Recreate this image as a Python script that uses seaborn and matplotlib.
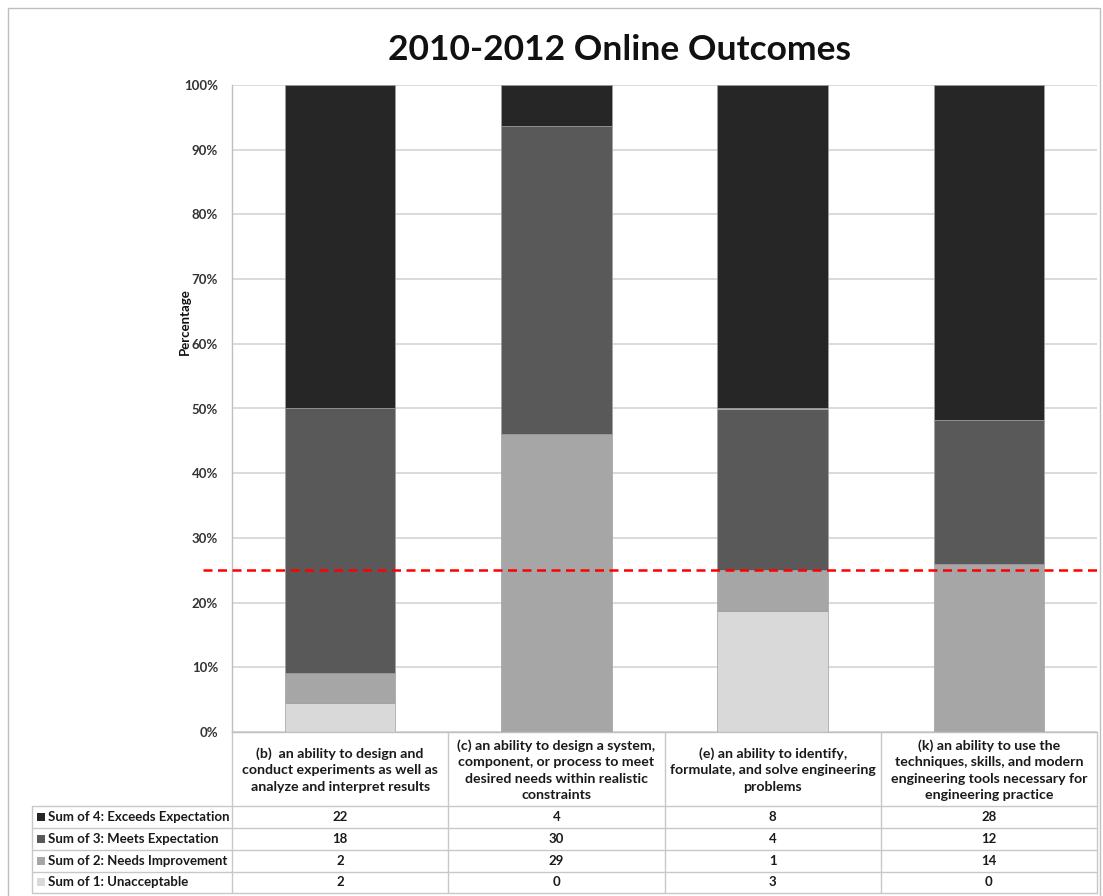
import matplotlib
matplotlib.use("Agg")
import matplotlib.pyplot as plt
import matplotlib.transforms as mtransforms
from matplotlib.lines import Line2D
from matplotlib.patches import Rectangle
from matplotlib.ticker import FuncFormatter, MultipleLocator
import pandas as pd
import seaborn as sns

# ---- data -------------------------------------------------------------
outcome_keys = ["b", "c", "e", "k"]
outcome_labels = [
    "(b)  an ability to design and\nconduct experiments as well as\nanalyze and interpret results",
    "(c) an ability to design a system,\ncomponent, or process to meet\ndesired needs within realistic\nconstraints",
    "(e) an ability to identify,\nformulate, and solve engineering\nproblems",
    "(k) an ability to use the\ntechniques, skills, and modern\nengineering tools necessary for\nengineering practice",
]
level_names = [
    "Sum of 4: Exceeds Expectation",
    "Sum of 3: Meets Expectation",
    "Sum of 2: Needs Improvement",
    "Sum of 1: Unacceptable",
]
exceeds = [22, 4, 8, 28]
meets = [18, 30, 4, 12]
needs = [2, 29, 1, 14]
unacceptable = [2, 0, 3, 0]
level_colors = ["#262626", "#595959", "#a6a6a6", "#d9d9d9"]
target_share = 0.25

counts = [exceeds, meets, needs, unacceptable]

# ---- figure -----------------------------------------------------------
sns.set_theme(style="white")
plt.rcParams["font.family"] = ["Lato", "DejaVu Sans"]

W, H = 1103, 896
fig = plt.figure(figsize=(W / 100, H / 100), dpi=100)

def fx(px):
    return px / W

def fy(py):
    return 1 - py / H

ax_left, ax_right, ax_top, ax_bottom = 232, 1097, 85, 732
ax = fig.add_axes([fx(ax_left), fy(ax_bottom), fx(ax_right - ax_left),
                   (ax_bottom - ax_top) / H])

totals = [sum(c[i] for c in counts) for i in range(len(outcome_keys))]
df = pd.DataFrame({"outcome": outcome_keys})
for name, vals in zip(level_names, counts):
    df[name] = [v / t for v, t in zip(vals, totals)]

# stack from "Unacceptable" at the bottom up to "Exceeds" on top
bottom = [0.0] * len(outcome_keys)
for name, color in zip(reversed(level_names), reversed(level_colors)):
    sns.barplot(data=df, x="outcome", y=name, color=color, width=0.51,
                bottom=bottom, edgecolor="#a0a0a0", linewidth=0.5,
                saturation=1, ax=ax)
    bottom = [b + v for b, v in zip(bottom, df[name])]

ax.set_xlim(-0.5, 3.5)
ax.set_ylim(0, 1)
ax.yaxis.set_major_locator(MultipleLocator(0.1))
ax.yaxis.set_major_formatter(FuncFormatter(lambda v, _: f"{v:.0%}"))
ax.set_xlabel("")
ax.set_ylabel("")
ax.set_xticks([])
ax.tick_params(axis="y", length=0, pad=10, labelsize=9.5, labelcolor="#333333")
for lab in ax.get_yticklabels():
    lab.set_fontweight("bold")
ax.yaxis.grid(True, color="#d4d4d4", linewidth=1.2)
ax.set_axisbelow(True)
for side in ["top", "right"]:
    ax.spines[side].set_visible(False)
for side in ["left", "bottom"]:
    ax.spines[side].set_color("#bfbfbf")
    ax.spines[side].set_linewidth(1.0)

# target line, running past the plot area on both sides
trans = mtransforms.blended_transform_factory(fig.transFigure, ax.transData)
fig.add_artist(Line2D([fx(203), fx(1100)], [target_share, target_share],
                      transform=trans, color="#ff0000", linewidth=1.8,
                      linestyle=(0, (3.6, 2.2))))

# ---- data table -------------------------------------------------------
tab_left, tab_top, tab_bottom = 32, 732, 893
col_px = (ax_right - ax_left) / 4
x0 = -0.5 - (ax_left - tab_left) / col_px
tax = fig.add_axes([fx(tab_left), fy(tab_bottom), fx(ax_right - tab_left),
                    (tab_bottom - tab_top) / H])
tax.set_xlim(x0, 3.5)
tax.set_ylim(tab_bottom, tab_top)
tax.axis("off")

grid_color = "#c8c8c8"
header_bottom = 806
row_edges = [806, 828, 849.5, 871.5, 893]

for xv in [-0.5, 0.5, 1.5, 2.5, 3.5]:
    tax.plot([xv, xv], [tab_top, tab_bottom], color=grid_color, lw=1.0,
             clip_on=False)
tax.plot([x0, x0], [header_bottom, tab_bottom], color=grid_color, lw=1.0,
         clip_on=False)
for yv in row_edges:
    tax.plot([x0, 3.5], [yv, yv], color=grid_color, lw=1.0, clip_on=False)

text_kw = dict(fontweight="bold", color="#1a1a1a")
for i, lab in enumerate(outcome_labels):
    tax.text(i, (tab_top + header_bottom) / 2 + 1, lab, ha="center",
             va="center", linespacing=1.45, fontsize=10.2, **text_kw)

sq = 8 / col_px
for r, (name, color, vals) in enumerate(zip(level_names, level_colors, counts)):
    yc = (row_edges[r] + row_edges[r + 1]) / 2
    tax.add_patch(Rectangle((x0 + 5 / col_px, yc - 4), sq, 8,
                            facecolor=color, edgecolor="none", clip_on=False))
    tax.text(x0 + 16 / col_px, yc, name, ha="left", va="center",
             fontsize=9.5, **text_kw)
    for i, v in enumerate(vals):
        tax.text(i, yc, str(v), ha="center", va="center", fontsize=9.5,
                 **text_kw)

# ---- titles and frame -------------------------------------------------
fig.text(fx(619), fy(50), "2010-2012 Online Outcomes", ha="center",
         va="center", fontsize=25.5, fontweight="bold", color="#111111")
fig.text(fx(185), fy(322), "Percentage", rotation=90, ha="center",
         va="center", fontsize=9.5, fontweight="bold", color="#111111")
fig.add_artist(Rectangle((fx(8), fy(H + 2)), fx(1100 - 8), (H + 2 - 8) / H,
                         transform=fig.transFigure, fill=False,
                         edgecolor="#bfbfbf", linewidth=1.0))

fig.savefig("out.png", dpi=100)
